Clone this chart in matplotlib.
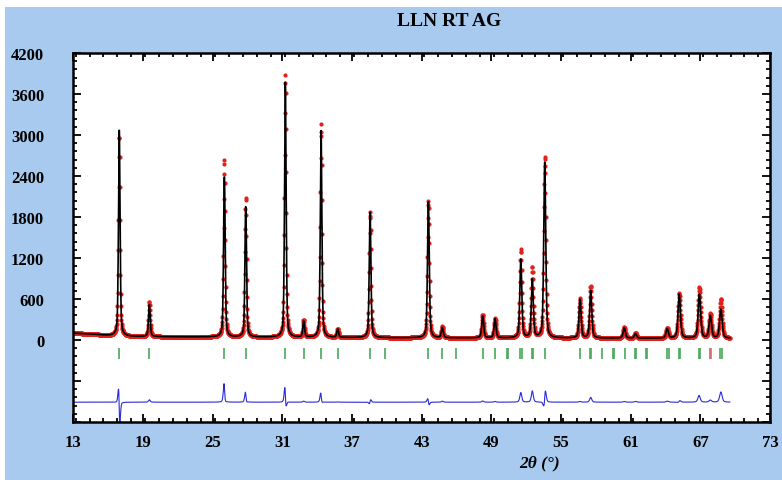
import numpy as np
import matplotlib
matplotlib.use('Agg')
import matplotlib.pyplot as plt
from matplotlib.ticker import MultipleLocator, FuncFormatter
from matplotlib.patches import Rectangle
from matplotlib.font_manager import FontProperties

pk_pos = [16.96, 19.55, 26.01, 27.85, 31.26, 32.84, 34.34, 35.77, 38.56, 43.58, 44.78, 48.26, 49.32,
          51.54, 52.53, 53.60, 56.64, 57.56, 60.45, 61.42, 64.15, 65.18, 66.92, 67.86, 68.77]
calc_h = [3010, 470, 2370, 1930, 3730, 235, 3025, 120, 1835, 1990, 150, 320, 280,
          1150, 860, 2570, 565, 695, 150, 65, 135, 645, 645, 325, 425]
obs_h = [2930, 505, 2600, 2050, 3850, 250, 3130, 125, 1845, 2000, 165, 337, 290,
         1290, 1025, 2650, 575, 765, 160, 76, 150, 660, 740, 355, 575]
obs_shift = [-0.010, 0.0, -0.004, -0.003, -0.004, 0.0, -0.002, 0.0, 0.002, -0.003, 0.0, 0.0, 0.0,
             0.0, 0.0, 0.006, 0.0, 0.0, 0.0, 0.0, 0.0, 0.003, -0.004, 0.0, 0.0]
fwhm = [0.16, 0.17, 0.16, 0.16, 0.16, 0.17, 0.16, 0.17, 0.17, 0.18, 0.19, 0.20, 0.20,
        0.20, 0.20, 0.20, 0.21, 0.21, 0.22, 0.22, 0.24, 0.24, 0.25, 0.25, 0.25]

# background level read at a few angles
bg_x = [13.0, 14.5, 16.0, 18.0, 22.0, 30.0, 40.0, 50.0, 60.0, 69.6]
bg_y = [100, 88, 65, 52, 46, 40, 33, 29, 27, 25]

# Bragg tick positions
green_ticks = [16.96, 19.55, 26.01, 27.85, 31.26, 32.84, 34.34, 35.77, 38.56, 39.85, 43.58, 44.78,
               45.96, 48.26, 49.32, 50.33, 50.45, 51.49, 51.60, 52.48, 52.60, 53.60, 56.64, 57.50,
               57.62, 58.56, 59.46, 59.58, 60.54, 61.38, 61.50, 62.33, 62.45, 64.14, 64.26, 65.14,
               65.26, 66.86, 66.98, 67.84, 68.73, 68.85]
red_ticks = [67.96]

x_ticks = [13, 19, 25, 31, 37, 43, 49, 55, 61, 67, 73]

diff_offset = -910

tt = np.arange(13.0, 69.56, 0.02)
bg = np.interp(tt, bg_x, bg_y)


def profile(heights, shifts):
    y = bg.copy()
    for p, h, w, s in zip(pk_pos, heights, fwhm, shifts):
        d = tt - (p + s)
        g = np.exp(-4 * np.log(2) * d ** 2 / w ** 2)
        lo = 1.0 / (1.0 + 4 * d ** 2 / w ** 2)
        y += h * (0.55 * g + 0.45 * lo)
    return y


calc = profile(calc_h, [0.0] * len(pk_pos))
obs = profile(obs_h, obs_shift)
diff = obs - calc + diff_offset

blue_bg = '#a8caee'
fig = plt.figure(figsize=(7.82, 4.81), dpi=100, facecolor='white')
fig.patches.append(Rectangle((5 / 782, 0), 1, 1 - 8 / 481, transform=fig.transFigure,
                             facecolor=blue_bg, edgecolor='none', zorder=-5))
ax = fig.add_axes([73.3 / 782, 1 - 423 / 481, (770 - 73.3) / 782, (423 - 54) / 481])
ax.set_zorder(2)
ax.set_facecolor('white')

ax.plot(tt, obs, 'o', color='#e3211c', ms=3.0, mew=0, zorder=2)
ax.plot(tt, calc, color='black', lw=1.2, zorder=3)
ax.vlines(green_ticks, -280, -120, color='#4aa857', lw=1.2, zorder=2)
ax.vlines(red_ticks, -280, -120, color='#e06a6a', lw=1.2, zorder=2)
ax.plot(tt, diff, color='#2a2ad8', lw=0.8, zorder=2)

ax.set_xlim(13, 73)
ax.set_ylim(-1200, 4200)
ax.set_xticks(x_ticks)
ax.xaxis.set_minor_locator(MultipleLocator(1.2))
ax.yaxis.set_major_locator(MultipleLocator(600))
ax.yaxis.set_minor_locator(MultipleLocator(120))
ax.yaxis.set_major_formatter(FuncFormatter(lambda v, p: '%d' % v if v >= 0 else ''))

ax.tick_params(which='both', direction='in', top=True, right=True, width=1.3, color='black')
ax.tick_params(which='major', length=6)
ax.tick_params(which='minor', length=3)
ax.tick_params(axis='y', pad=21)
ax.tick_params(axis='x', pad=9)
fp = FontProperties(family='Liberation Serif', weight='bold', size=12)
for lab in ax.get_xticklabels() + ax.get_yticklabels():
    lab.set_fontproperties(fp)
for sp in ax.spines.values():
    sp.set_linewidth(1.8)

fig.text(449 / 782, 1 - 21 / 481, 'LLN RT AG', ha='center', va='center',
         fontfamily='Liberation Serif', fontweight='bold', fontsize=14)
fig.text(540 / 782, 1 - 463 / 481, '2θ (°)', ha='center', va='center',
         fontfamily='Liberation Serif', fontweight='bold', fontstyle='italic', fontsize=12.5)

fig.savefig('out.png', dpi=100, facecolor=fig.get_facecolor())
